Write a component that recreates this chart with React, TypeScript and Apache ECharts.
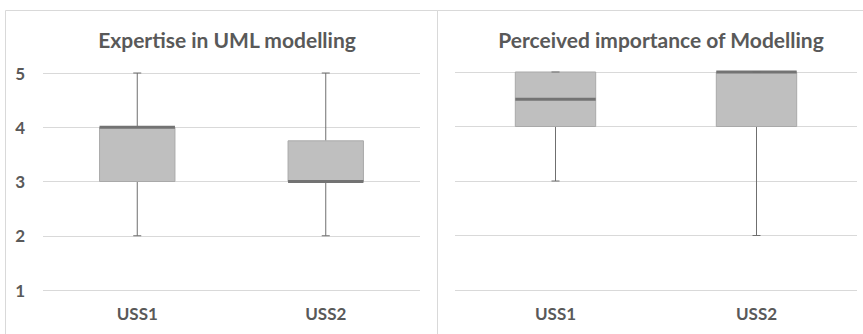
import React, { useEffect, useRef } from "react";
import * as echarts from "echarts";

// Groups on the category axis
const categories = ["USS1", "USS2"];

// Five-number summaries per group: [min, Q1, median, Q3, max]
const expertiseStats = [
  [2, 3, 4, 4, 5],
  [2, 3, 3, 3.75, 5],
];
const importanceStats = [
  [3, 4, 4.5, 5, 5],
  [2, 4, 5, 5, 5],
];

const panelTitles = ["Expertise in UML modelling", "Perceived importance of Modelling"];

const FONT = "Lato, 'Noto Sans', sans-serif";
const TEXT = "#595959";

function renderBox(params: any, api: any) {
  const x = api.value(0);
  const lo = api.coord([x, api.value(1)]);
  const q1 = api.coord([x, api.value(2)]);
  const med = api.coord([x, api.value(3)]);
  const q3 = api.coord([x, api.value(4)]);
  const hi = api.coord([x, api.value(5)]);
  const band = api.size([1, 0])[0];
  const w = band * 0.4;
  const cx = lo[0];
  const cap = 4;
  const whisker = { stroke: "#6f6f6f", lineWidth: 1 };
  return {
    type: "group",
    children: [
      { type: "line", shape: { x1: cx, y1: hi[1], x2: cx, y2: q3[1] }, style: whisker },
      { type: "line", shape: { x1: cx, y1: q1[1], x2: cx, y2: lo[1] }, style: whisker },
      {
        type: "rect",
        shape: { x: cx - w / 2, y: q3[1], width: w, height: q1[1] - q3[1] },
        style: { fill: "#bfbfbf", stroke: "#a9a9a9", lineWidth: 1 },
      },
      {
        type: "line",
        shape: { x1: cx - w / 2, y1: med[1], x2: cx + w / 2, y2: med[1] },
        style: { stroke: "#737373", lineWidth: 3 },
      },
      { type: "line", shape: { x1: cx - cap, y1: hi[1], x2: cx + cap, y2: hi[1] }, style: whisker },
      { type: "line", shape: { x1: cx - cap, y1: lo[1], x2: cx + cap, y2: lo[1] }, style: whisker },
    ],
  };
}

export default function App() {
  const ref = useRef<HTMLDivElement>(null);

  useEffect(() => {
    document.body.style.margin = "0";
    if (!ref.current) return;
    const chart = echarts.init(ref.current, null, { renderer: "svg" });

    const toData = (stats: number[][]) => stats.map((s, i) => [i, ...s]);

    const yAxisBase = {
      type: "value" as const,
      min: 1,
      max: 5,
      interval: 1,
      axisLine: { show: false },
      axisTick: { show: false },
      splitLine: { lineStyle: { color: "#d9d9d9", width: 1 } },
    };
    const xAxisBase = {
      type: "category" as const,
      data: categories,
      axisLine: { show: false },
      axisTick: { show: false },
      axisLabel: {
        color: TEXT,
        fontFamily: FONT,
        fontWeight: "bold" as const,
        fontSize: 17,
        margin: 15,
      },
    };

    const titleStyle = { color: TEXT, fontFamily: FONT, fontWeight: "bold" as const, fontSize: 21 };

    chart.setOption({
      animation: false,
      backgroundColor: "#ffffff",
      title: [
        { text: panelTitles[0], left: 222, top: 24, textAlign: "center", textStyle: titleStyle },
        { text: panelTitles[1], left: 656, top: 24, textAlign: "center", textStyle: titleStyle },
      ],
      graphic: [
        {
          type: "rect",
          shape: { x: 5.5, y: 10.5, width: 432, height: 340 },
          style: { fill: "none", stroke: "#d9d9d9", lineWidth: 1 },
          silent: true,
        },
        {
          type: "rect",
          shape: { x: 437.5, y: 10.5, width: 440, height: 340 },
          style: { fill: "none", stroke: "#d9d9d9", lineWidth: 1 },
          silent: true,
        },
      ],
      grid: [
        { left: 43, right: 443, top: 73, bottom: 44 },
        { left: 455, right: 6, top: 72, bottom: 44 },
      ],
      xAxis: [
        { ...xAxisBase, gridIndex: 0 },
        { ...xAxisBase, gridIndex: 1 },
      ],
      yAxis: [
        {
          ...yAxisBase,
          gridIndex: 0,
          axisLabel: {
            color: TEXT,
            fontFamily: FONT,
            fontWeight: "bold",
            fontSize: 17,
            margin: 18,
          },
        },
        { ...yAxisBase, gridIndex: 1, axisLabel: { show: false } },
      ],
      series: [
        {
          type: "custom",
          xAxisIndex: 0,
          yAxisIndex: 0,
          renderItem: renderBox,
          encode: { x: 0, y: [1, 2, 3, 4, 5] },
          data: toData(expertiseStats),
        },
        {
          type: "custom",
          xAxisIndex: 1,
          yAxisIndex: 1,
          renderItem: renderBox,
          encode: { x: 0, y: [1, 2, 3, 4, 5] },
          data: toData(importanceStats),
        },
      ],
    });

    return () => chart.dispose();
  }, []);

  return <div ref={ref} style={{ width: 863, height: 334 }} />;
}
